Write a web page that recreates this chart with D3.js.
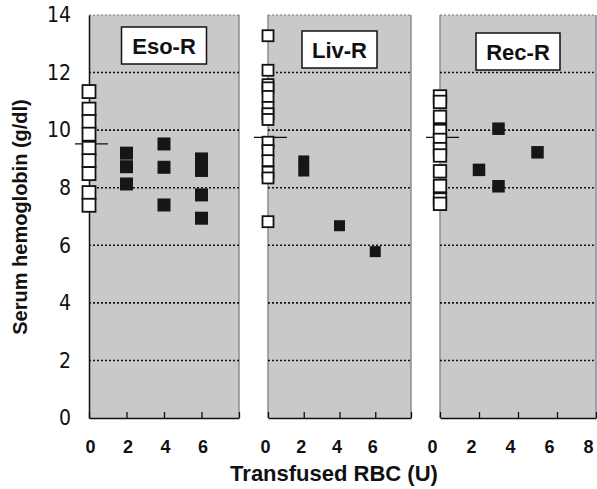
<!DOCTYPE html>
<html>
<head>
<meta charset="utf-8">
<script src="https://cdn.jsdelivr.net/npm/d3@7"></script>
<style>
  html, body { margin: 0; padding: 0; background: #fff; }
  svg { display: block; }
</style>
</head>
<body>
<div id="chart"></div>
<script>
// groups (one panel each)
const groups = ['Eso-R', 'Liv-R', 'Rec-R']

// control values, all drawn at 0 U
const controlHb = [
  [11.34, 10.73, 10.30, 9.86, 9.37, 8.94, 8.49, 7.83, 7.39],
  [13.28, 12.08, 11.58, 11.47, 11.17, 10.79, 10.57, 10.37, 9.58, 9.29, 8.94, 8.54, 8.34, 6.82],
  [11.17, 10.98, 10.46, 9.97, 9.66, 9.34, 9.12, 8.57, 8.06, 7.59, 7.44]
]
const controlMean = [9.52, 9.75, 9.75]

// transfused patients: units and hemoglobin
const transfusedRBC = [
  [2, 2, 2, 4, 4, 4, 6, 6, 6, 6],
  [2, 2, 4, 6],
  [2, 3, 3, 5]
]
const transfusedHb = [
  [9.20, 8.73, 8.13, 9.52, 8.71, 7.40, 9.00, 8.60, 7.75, 6.94],
  [8.93, 8.58, 6.68, 5.78],
  [8.62, 10.05, 8.05, 9.23]
]

const yTicks = [0, 2, 4, 6, 8, 10, 12, 14]
const xTickLabels = [[0, 2, 4, 6], [0, 2, 4, 6], [0, 2, 4, 6, 8]]

;(() => {
  const width = 597, height = 489
  const top = 15, bottom = 418
  const panelX = [[89, 239], [268, 411], [440, 596]]
  const squareSize = [13, 11, 12.5]
  const boxW = [85, 75, 84]
  const boxTop = [27, 31, 33]
  const labelShift = [1, -3, -8]

  const svg = d3.select('#chart')
    .append('svg')
    .attr('width', width)
    .attr('height', height)
    .style('font-family', '"Liberation Sans", Arial, sans-serif')

  const yScale = d3.scaleLinear().domain([0, 14]).range([bottom, top])

  groups.forEach((name, i) => {
    const [x0, x1] = panelX[i]
    const xScale = d3.scaleLinear().domain([0, 8]).range([x0, x1])
    const g = svg.append('g').attr('class', 'panel')

    // background
    g.append('rect')
      .attr('x', x0).attr('y', top)
      .attr('width', x1 - x0).attr('height', bottom - top)
      .attr('fill', '#c8c9cb')

    // side edges
    g.append('line')
      .attr('x1', x1).attr('x2', x1).attr('y1', top).attr('y2', bottom)
      .attr('stroke', '#8c8c8c').attr('stroke-width', 1.5)
    if (i > 0) {
      g.append('line')
        .attr('x1', x0).attr('x2', x0).attr('y1', top).attr('y2', bottom)
        .attr('stroke', '#8c8c8c').attr('stroke-width', 1.5)
    }

    // dotted grid
    g.selectAll('line.grid')
      .data(yTicks.filter(d => d > 0))
      .enter()
      .append('line')
      .attr('class', 'grid')
      .attr('x1', x0).attr('x2', x1)
      .attr('y1', d => yScale(d)).attr('y2', d => yScale(d))
      .attr('stroke', d => d === 14 ? '#7a7a7a' : '#111')
      .attr('stroke-width', d => d === 14 ? 1 : 1.6)
      .attr('stroke-dasharray', '2,2')

    // x axis
    const labels = xTickLabels[i]
    const xAxis = d3.axisBottom(xScale)
      .tickValues([0, 2, 4, 6, 8])
      .tickSize(-6)
      .tickSizeOuter(0)
      .tickFormat(d => labels.includes(d) ? d : '')
    const ax = g.append('g')
      .attr('transform', `translate(0, ${bottom})`)
      .call(xAxis)
    ax.select('.domain').attr('stroke', '#111').attr('stroke-width', 1.5)
    ax.selectAll('.tick line').attr('stroke', '#111').attr('stroke-width', 1.3)
    ax.selectAll('.tick text')
      .attr('y', 22)
      .attr('dx', labelShift[i])
      .attr('fill', '#111')
      .style('font-size', '18px')
      .style('font-weight', 'bold')
      .style('font-family', '"Liberation Sans", Arial, sans-serif')

    // y axis only on the first panel
    if (i === 0) {
      const yAxis = d3.axisLeft(yScale).tickValues(yTicks).tickSize(0).tickPadding(18)
      const ay = g.append('g')
        .attr('transform', `translate(${x0}, 0)`)
        .call(yAxis)
      ay.select('.domain').attr('stroke', '#111').attr('stroke-width', 1.5)
      ay.selectAll('.tick text')
        .attr('fill', '#111')
        .style('font-size', '21px')
        .style('font-family', '"Liberation Sans Narrow", "DejaVu Sans Condensed", sans-serif')
    }

    // group label box
    const bx = (x0 + x1) / 2
    g.append('rect')
      .attr('x', bx - boxW[i] / 2).attr('y', boxTop[i])
      .attr('width', boxW[i]).attr('height', 37)
      .attr('fill', '#fff').attr('stroke', '#111').attr('stroke-width', 1.5)
    g.append('text')
      .attr('x', bx).attr('y', boxTop[i] + 27)
      .attr('text-anchor', 'middle')
      .attr('fill', '#111')
      .style('font-size', '22px')
      .style('font-weight', 'bold')
      .text(name)

    // control mean line
    g.append('line')
      .attr('x1', xScale(0) - 14).attr('x2', xScale(0) + 19)
      .attr('y1', yScale(controlMean[i])).attr('y2', yScale(controlMean[i]))
      .attr('stroke', '#111').attr('stroke-width', 1.2)

    const s = squareSize[i]

    // open squares (controls)
    g.selectAll('rect.ctrl')
      .data(controlHb[i])
      .enter()
      .append('rect')
      .attr('class', 'ctrl')
      .attr('x', xScale(0) - s / 2)
      .attr('y', d => yScale(d) - s / 2)
      .attr('width', s).attr('height', s)
      .attr('fill', '#fff')
      .attr('stroke', '#111')
      .attr('stroke-width', 1.8)

    // filled squares (transfused)
    g.selectAll('rect.tx')
      .data(transfusedHb[i].map((v, j) => ({ u: transfusedRBC[i][j], v })))
      .enter()
      .append('rect')
      .attr('class', 'tx')
      .attr('x', d => xScale(d.u) - s / 2)
      .attr('y', d => yScale(d.v) - s / 2)
      .attr('width', s).attr('height', s)
      .attr('fill', '#161616')
  })

  // axis titles
  svg.append('text')
    .attr('x', 334).attr('y', 481)
    .attr('text-anchor', 'middle')
    .attr('fill', '#111')
    .style('font-size', '22px')
    .style('font-weight', 'bold')
    .text('Transfused RBC (U)')

  svg.append('text')
    .attr('transform', 'translate(27, 217) rotate(-90)')
    .attr('text-anchor', 'middle')
    .attr('fill', '#111')
    .style('font-size', '20px')
    .style('font-weight', 'bold')
    .text('Serum hemoglobin (g/dl)')
})()
</script>
</body>
</html>
